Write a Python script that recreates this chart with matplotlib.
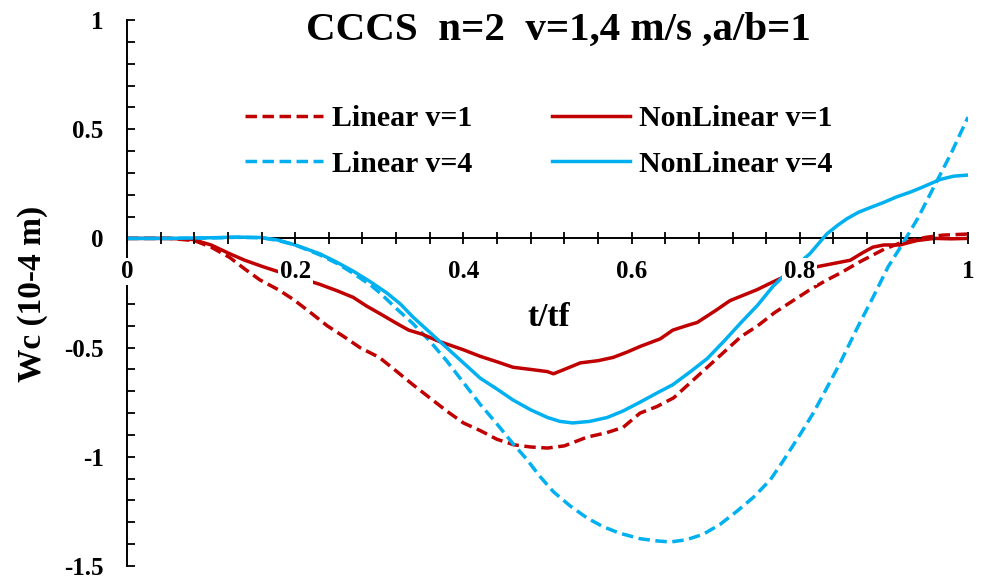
import matplotlib.pyplot as plt
import numpy as np
from matplotlib.ticker import MultipleLocator

plt.rcParams['font.family'] = ['Liberation Serif', 'DejaVu Serif']
plt.rcParams['font.weight'] = 'bold'
plt.rcParams['axes.unicode_minus'] = False

RED = '#C00000'
BLUE = '#00B0F0'

# Linear, v=1
t_lin1 = [0, 0.05, 0.08, 0.10, 0.122, 0.14, 0.158, 0.18, 0.198, 0.22, 0.238, 0.258,
          0.277, 0.30, 0.321, 0.34, 0.36, 0.38, 0.40, 0.42, 0.44, 0.46, 0.48, 0.50,
          0.52, 0.547, 0.57, 0.59, 0.61, 0.63, 0.65, 0.67, 0.69, 0.71, 0.73, 0.75,
          0.77, 0.79, 0.81, 0.83, 0.85, 0.87, 0.89, 0.90, 0.92, 0.95, 0.97, 1.0]
w_lin1 = [0, 0, -0.01, -0.04, -0.087, -0.14, -0.19, -0.235, -0.28, -0.345, -0.40, -0.45,
          -0.50, -0.545, -0.61, -0.67, -0.73, -0.79, -0.845, -0.88, -0.92, -0.945, -0.955, -0.96,
          -0.95, -0.91, -0.89, -0.865, -0.80, -0.77, -0.73, -0.66, -0.59, -0.52, -0.45, -0.40,
          -0.34, -0.29, -0.24, -0.195, -0.155, -0.11, -0.07, -0.05, -0.02, 0.005, 0.015, 0.02]

# NonLinear, v=1
t_nl1 = [0, 0.05, 0.078, 0.10, 0.122, 0.14, 0.162, 0.178, 0.20, 0.229, 0.25, 0.269,
         0.285, 0.301, 0.321, 0.335, 0.352, 0.37, 0.385, 0.40, 0.42, 0.44, 0.459, 0.48,
         0.50, 0.507, 0.52, 0.539, 0.56, 0.578, 0.595, 0.61, 0.634, 0.649, 0.665, 0.678,
         0.70, 0.717, 0.733, 0.749, 0.765, 0.776, 0.80, 0.82, 0.84, 0.86, 0.875, 0.887,
         0.90, 0.919, 0.939, 0.96, 0.98, 1.0]
w_nl1 = [0, 0, -0.005, -0.03, -0.07, -0.10, -0.13, -0.15, -0.175, -0.21, -0.24, -0.27,
         -0.31, -0.345, -0.39, -0.42, -0.44, -0.47, -0.49, -0.51, -0.54, -0.565, -0.59, -0.60,
         -0.61, -0.62, -0.60, -0.57, -0.56, -0.545, -0.52, -0.495, -0.46, -0.42, -0.40, -0.385,
         -0.33, -0.285, -0.26, -0.235, -0.205, -0.185, -0.15, -0.13, -0.115, -0.10, -0.065, -0.04,
         -0.03, -0.03, -0.01, 0.0, -0.002, 0.0]

# Linear, v=4
t_lin4 = [0, 0.05, 0.10, 0.13, 0.16, 0.18, 0.20, 0.229, 0.25, 0.269, 0.29, 0.301,
          0.32, 0.34, 0.36, 0.38, 0.40, 0.42, 0.44, 0.459, 0.475, 0.491, 0.507, 0.527,
          0.547, 0.566, 0.586, 0.61, 0.63, 0.646, 0.665, 0.685, 0.705, 0.725, 0.745, 0.765,
          0.78, 0.80, 0.816, 0.83, 0.848, 0.867, 0.887, 0.905, 0.923, 0.94, 0.96, 0.98, 1.0]
w_lin4 = [0, 0, 0.002, 0.005, 0.003, -0.01, -0.03, -0.075, -0.115, -0.16, -0.215, -0.25,
          -0.32, -0.39, -0.47, -0.56, -0.66, -0.76, -0.85, -0.94, -1.01, -1.09, -1.16, -1.225,
          -1.28, -1.32, -1.35, -1.375, -1.385, -1.39, -1.38, -1.355, -1.31, -1.25, -1.185, -1.105,
          -1.02, -0.90, -0.80, -0.70, -0.57, -0.42, -0.27, -0.13, -0.02, 0.09, 0.24, 0.39, 0.555]

# NonLinear, v=4
t_nl4 = [0, 0.05, 0.10, 0.13, 0.16, 0.18, 0.20, 0.229, 0.25, 0.269, 0.29, 0.309,
         0.325, 0.34, 0.36, 0.38, 0.40, 0.42, 0.44, 0.459, 0.48, 0.50, 0.515, 0.53,
         0.55, 0.571, 0.59, 0.61, 0.634, 0.649, 0.67, 0.69, 0.71, 0.729, 0.75, 0.768,
         0.78, 0.80, 0.812, 0.832, 0.845, 0.856, 0.87, 0.883, 0.90, 0.915, 0.93, 0.943,
         0.955, 0.967, 0.983, 1.0]
w_nl4 = [0, 0, 0.003, 0.006, 0.004, -0.008, -0.03, -0.07, -0.11, -0.15, -0.20, -0.25,
         -0.30, -0.36, -0.43, -0.50, -0.57, -0.64, -0.69, -0.74, -0.785, -0.82, -0.838, -0.845,
         -0.838, -0.82, -0.79, -0.75, -0.70, -0.67, -0.61, -0.55, -0.47, -0.39, -0.305, -0.22,
         -0.175, -0.11, -0.07, 0.02, 0.06, 0.09, 0.12, 0.14, 0.165, 0.19, 0.21, 0.23,
         0.25, 0.27, 0.285, 0.29]

x_ticks = [0, 0.2, 0.4, 0.6, 0.8, 1.0]
x_labels = ['0', '0.2', '0.4', '0.6', '0.8', '1']
y_ticks = [-1.5, -1, -0.5, 0, 0.5, 1]
y_labels = ['-1.5', '-1', '-0.5', '0', '0.5', '1']

fig = plt.figure(figsize=(9.86, 5.83), dpi=100)
ax = fig.add_axes([127/986, 17/583, 841/986, 546/583])

lw = 2.5
dash = (3.3, 1.6)
h1, = ax.plot(t_lin1, w_lin1, color=RED, lw=lw, dashes=dash, zorder=3, label='Linear v=1')
h2, = ax.plot(t_lin4, w_lin4, color=BLUE, lw=lw, dashes=dash, zorder=3, label='Linear v=4')
h3, = ax.plot(t_nl1, w_nl1, color=RED, lw=lw, zorder=3, label='NonLinear v=1')
h4, = ax.plot(t_nl4, w_nl4, color=BLUE, lw=lw, zorder=3, label='NonLinear v=4')

ax.set_xlim(0, 1)
ax.set_ylim(-1.5, 1)

ax.spines['top'].set_visible(False)
ax.spines['right'].set_visible(False)
ax.spines['bottom'].set_position(('data', 0))
for s in ('left', 'bottom'):
    ax.spines[s].set_linewidth(1.4)

ax.set_xticks(x_ticks, x_labels)
ax.set_yticks(y_ticks, y_labels)
ax.xaxis.set_minor_locator(MultipleLocator(0.04))
ax.yaxis.set_minor_locator(MultipleLocator(0.1))
ax.tick_params(axis='x', which='both', direction='inout', length=9, width=1.3,
               pad=11, labelsize=18)
ax.tick_params(axis='y', which='both', direction='in', length=6, width=1.3,
               pad=17, labelsize=18)
for lbl in ax.get_xticklabels():
    lbl.set_bbox(dict(facecolor='white', edgecolor='none', pad=1.5))
ax.xaxis.set_zorder(4)

ax.text(0.502, -0.40, 't/tf', ha='center', va='baseline', fontsize=24)
fig.text(33/986, 1 - 294/583, 'Wc (10-4 m)', rotation=90, ha='center', va='center',
         fontsize=24)
fig.text(558/986, 1 - 40/583, 'CCCS  n=2  v=1,4 m/s ,a/b=1', ha='center',
         va='baseline', fontsize=29.5)

ax.legend(handles=[h1, h2, h3, h4], ncol=2, loc='upper left',
          bbox_to_anchor=(245/986, 1 - 105/583), bbox_transform=fig.transFigure,
          frameon=False, fontsize=21.5, handlelength=2.6, handletextpad=0.3,
          columnspacing=2.7, labelspacing=0.62, borderpad=0, borderaxespad=0)

fig.savefig('out.png', dpi=100)
